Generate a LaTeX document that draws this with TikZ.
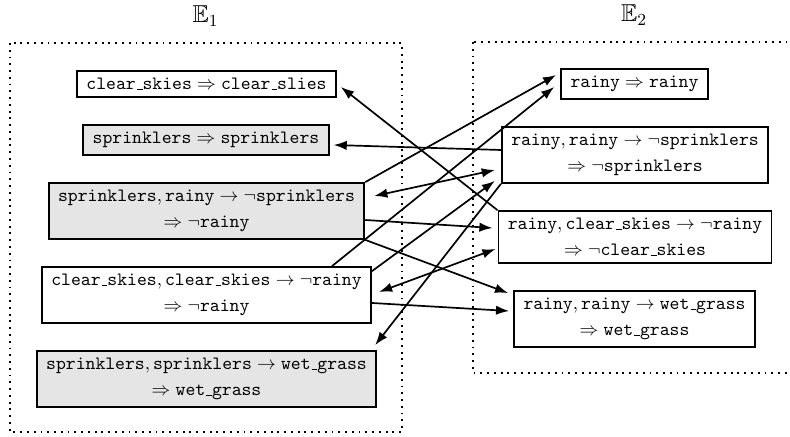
\documentclass[tikz,border=0pt]{standalone}
\usepackage{amssymb}
\usetikzlibrary{arrows.meta,calc}
\newcommand\usc{\kern.06em\vbox{\hrule width.3em}}
\newcommand\vn[1]{\mathtt{#1}}
\begin{document}
\begin{tikzpicture}[x=0.532pt,y=-0.532pt,
  box/.style={draw,line width=1pt,inner xsep=5pt,inner ysep=3.85pt},
  gbox/.style={box,fill=black!10},
  two/.style={align=center},
  lbl/.style={font=\fontsize{13}{15}\selectfont},
  arr/.style={line width=0.9pt,-{Latex[length=7pt,width=5pt]}},
  darr/.style={line width=0.9pt,{Latex[length=7pt,width=5pt]}-{Latex[length=7pt,width=5pt]}},
  group/.style={line width=1pt,dash pattern=on 1pt off 2.6pt}]
\useasboundingbox (0,0) rectangle (790,437);
\clip (0,0) rectangle (790,437);
% group frames
\draw[group] (10,43) rectangle (402,432);
\draw[group] (473,42) rectangle (800,373);
\node[lbl] (E1) at (205.5,16) {$\mathbb{E}_1$};
\node[lbl] (E2) at (634,15) {$\mathbb{E}_2$};
% left nodes
\node[box] (A1) at (206.5,84) {$\vn{clear\usc skies}\Rightarrow\vn{clear\usc slies}$};
\node[gbox] (A2) at (206,140) {$\vn{sprinklers}\Rightarrow\vn{sprinklers}$};
\node[gbox,two] (A3) at (206.5,211) {$\vn{sprinklers},\vn{rainy}\to\neg\vn{sprinklers}$\\[1.7pt]$\Rightarrow\neg\vn{rainy}$};
\node[box,two] (A4) at (206.5,295) {$\vn{clear\usc skies},\vn{clear\usc skies}\to\neg\vn{rainy}$\\[1.7pt]$\Rightarrow\neg\vn{rainy}$};
\node[gbox,two] (A5) at (206.5,379) {$\vn{sprinklers},\vn{sprinklers}\to\vn{wet\usc grass}$\\[1.7pt]$\Rightarrow\vn{wet\usc grass}$};
% right nodes
\node[box] (B1) at (634.5,84) {$\vn{rainy}\Rightarrow\vn{rainy}$};
\node[box,two] (B2) at (635,155) {$\vn{rainy},\vn{rainy}\to\neg\vn{sprinklers}$\\[1.7pt]$\Rightarrow\neg\vn{sprinklers}$};
\node[box,two] (B3) at (635,237) {$\vn{rainy},\vn{clear\usc skies}\to\neg\vn{rainy}$\\[1.7pt]$\Rightarrow\neg\vn{clear\usc skies}$};
\node[box,two] (B4) at (634.5,319) {$\vn{rainy},\vn{rainy}\to\vn{wet\usc grass}$\\[1.7pt]$\Rightarrow\vn{wet\usc grass}$};
% connectors
\draw[arr] (B3.north west) -- ($(A1.east)+(4,3)$);
\draw[arr] ($(B2.west)+(0,-5)$) -- ($(A2.east)+(4,5)$);
\draw[arr] (A3.north east) -- ($(B1.west)+(-4,-9)$);
\draw[arr] ($(A4.north east)+(-40,0)$) -- ($(B1.west)+(-6,3)$);
\draw[darr] ($(A3.east)+(9,-15)$) -- ($(B2.west)+(-6,15)$);
\draw[arr] ($(A4.north east)+(0,5)$) -- ($(B2.south west)+(-6,-3)$);
\draw[arr] ($(A3.east)+(0,9)$) -- ($(B3.west)+(-5,-9)$);
\draw[darr] ($(A4.east)+(7,-3)$) -- ($(B3.west)+(-2,12)$);
\draw[arr] (B2.south west) -- ($(A5.north east)+(-2,-5)$);
\draw[arr] (A3.south east) -- ($(B4.north west)+(-5,3)$);
\draw[arr] ($(A4.east)+(0,8)$) -- ($(B4.west)+(-4,-8)$);
\end{tikzpicture}
\end{document}
